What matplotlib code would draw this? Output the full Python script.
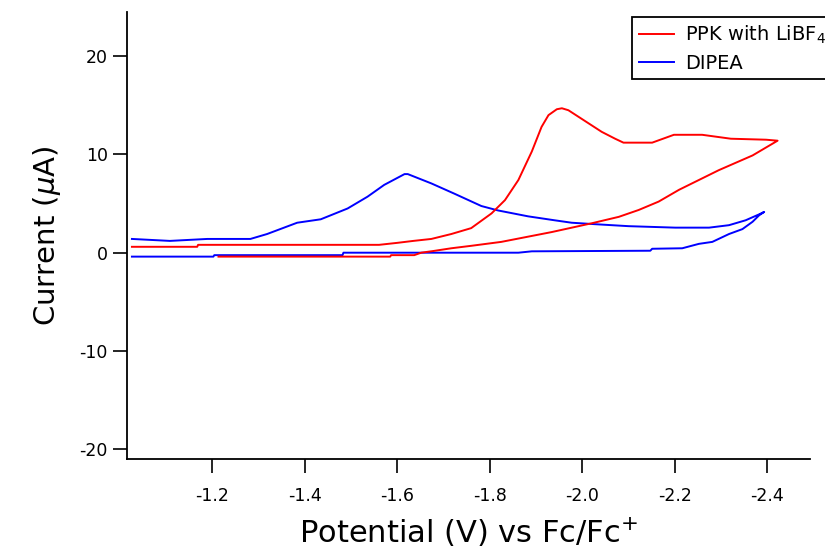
import numpy as np
import matplotlib
matplotlib.use('Agg')
import matplotlib.pyplot as plt

plt.rcParams['font.family'] = 'DejaVu Sans'
plt.rcParams['axes.unicode_minus'] = False

""" ======================  Data read off the CV traces ==================== """
# PPK with LiBF4 : forward scan (toward negative potential) then return
ppkFwdV = [-1.027, -1.168, -1.170, -1.561, -1.600, -1.635, -1.674, -1.717, -1.760,
           -1.804, -1.833, -1.862, -1.891, -1.912, -1.927, -1.945, -1.956, -1.970,
           -2.006, -2.042, -2.071, -2.089, -2.151, -2.198, -2.259, -2.321,
           -2.397, -2.422]
ppkFwdI = [0.6, 0.6, 0.8, 0.8, 1.0, 1.2, 1.4, 1.9, 2.5,
           4.0, 5.35, 7.4, 10.3, 12.8, 14.0, 14.6, 14.7, 14.5,
           13.4, 12.3, 11.6, 11.2, 11.2, 12.0, 12.0, 11.6,
           11.5, 11.4]
ppkRevV = [-2.422, -2.368, -2.295, -2.252, -2.209, -2.165, -2.122, -2.079,
           -2.021, -1.934, -1.825, -1.760, -1.717, -1.678, -1.652, -1.637,
           -1.587, -1.585, -1.214]
ppkRevI = [11.4, 9.9, 8.4, 7.4, 6.4, 5.2, 4.35, 3.65,
           3.0, 2.1, 1.1, 0.7, 0.45, 0.17, 0.0, -0.25,
           -0.25, -0.4, -0.4]

# DIPEA : lower branch out to the switching potential, upper branch back
dipFwdV = [-1.027, -1.203, -1.205, -1.482, -1.484, -1.862, -1.891, -2.147,
           -2.151, -2.216, -2.252, -2.281, -2.317, -2.346, -2.368, -2.382, -2.393]
dipFwdI = [-0.4, -0.4, -0.25, -0.25, 0.0, 0.0, 0.14, 0.2,
           0.4, 0.45, 0.9, 1.1, 1.9, 2.4, 3.15, 3.8, 4.15]
dipRevV = [-2.393, -2.382, -2.353, -2.317, -2.274, -2.201, -2.100, -2.028,
           -1.977, -1.940, -1.883, -1.818, -1.782, -1.724, -1.674, -1.623,
           -1.616, -1.572, -1.536, -1.493, -1.435, -1.384, -1.319, -1.283,
           -1.190, -1.109, -1.027]
dipRevI = [4.15, 3.9, 3.3, 2.8, 2.55, 2.55, 2.7, 2.9,
           3.05, 3.3, 3.7, 4.3, 4.75, 6.0, 7.05, 8.0,
           8.0, 6.9, 5.7, 4.5, 3.4, 3.05, 1.9, 1.4,
           1.4, 1.2, 1.4]

xTicks = [-1.2, -1.4, -1.6, -1.8, -2.0, -2.2, -2.4]
yTicks = [-20, -10, 0, 10, 20]

"""========================== Build the figure =========================="""
fig = plt.figure(figsize=(8.25, 5.57), dpi=100)
ax = fig.add_axes([0.1543, 0.1759, 0.8275, 0.8026])

ppkV = np.concatenate([ppkFwdV, ppkRevV])
ppkI = np.concatenate([ppkFwdI, ppkRevI])
dipV = np.concatenate([dipFwdV, dipRevV])
dipI = np.concatenate([dipFwdI, dipRevI])

ax.plot(dipV, dipI, color='#0000ff', lw=1.4, label='DIPEA')
ax.plot(ppkV, ppkI, color='#ff0000', lw=1.4, label='PPK with LiBF$_4$')

ax.set_xlim(-1.017, -2.492)
ax.set_ylim(-21, 24.5)
ax.set_xticks(xTicks)
ax.set_xticklabels(['%.1f' % v for v in xTicks])
ax.set_yticks(yTicks)

for side in ['top', 'right']:
    ax.spines[side].set_visible(False)
for side in ['left', 'bottom']:
    ax.spines[side].set_linewidth(1.3)
ax.tick_params(direction='out', length=10, width=1.2, labelsize=12.5)
ax.tick_params(axis='x', pad=10)
ax.tick_params(axis='y', pad=4)

ax.set_xlabel('Potential (V) vs Fc/Fc$^{+}$', fontsize=22, labelpad=8)
ax.set_ylabel('Current ($\\mu$A)', fontsize=21, labelpad=12)

# legend in the top right corner, partly cut off by the figure edge
h, l = ax.get_legend_handles_labels()
leg = fig.legend(h[::-1], l[::-1], loc='upper left',
                 bbox_to_anchor=(0.7657, 0.970), bbox_transform=fig.transFigure,
                 fontsize=14, fancybox=False, framealpha=1, edgecolor='black',
                 handlelength=1.8, handletextpad=0.6, borderpad=0.35,
                 labelspacing=0.4, borderaxespad=0)
leg.get_frame().set_linewidth(1.3)

fig.savefig('out.png', dpi=100)
